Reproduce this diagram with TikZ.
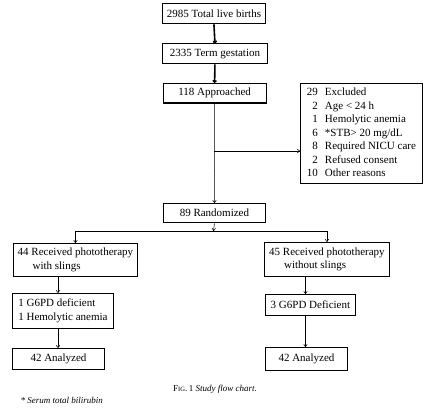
\documentclass[tikz,border=0pt]{standalone}
\usepackage{fontspec}
\setmainfont{Liberation Serif}
\usetikzlibrary{arrows.meta}
\begin{document}
\begin{tikzpicture}[x=1pt,y=1pt,
  box/.style={draw, line width=0.9pt, inner sep=0pt, anchor=north west, font=\fontsize{11}{13.5}\selectfont},
  conn/.style={line width=0.5pt},
  arr/.style={conn, -{To[length=3pt,width=4pt]}},
  thickarr/.style={line width=1.6pt, -{To[length=3pt,width=4.5pt]}}]
\useasboundingbox (0,0) rectangle (424,-409);
\node[box, minimum width=103pt, minimum height=20pt] (b1) at (162,-3.5) {2985 Total live births};
\node[box, minimum width=105pt, minimum height=20pt] (b2) at (162,-43.5) {2335 Term gestation};
\node[box, minimum width=103pt, minimum height=19.5pt, line width=1.2pt] (b3) at (162.5,-83) {118 Approached};
\node[box, minimum width=122pt, minimum height=100pt] (excl) at (300,-83)
  {\begin{tabular}{@{}r@{\hspace{7pt}}l@{}}
  29 & Excluded\\
  2 & Age < 24 h\\
  1 & Hemolytic anemia\\
  6 & *STB> 20 mg/dL\\
  8 & Required NICU care\\
  2 & Refused consent\\
  10 & Other reasons
  \end{tabular}};
\node[box, minimum width=102pt, minimum height=19.5pt] (rand) at (163,-203) {89 Randomized};
\node[box, minimum width=124pt, minimum height=33pt, align=left] (left) at (13,-243) {44 Received phototherapy\\\hspace{1.35em}with slings};
\node[box, minimum width=125pt, minimum height=34pt, align=left] (right) at (264,-242) {45 Received phototherapy\\\hspace{1.35em}without slings};
\node[box, minimum width=101pt, minimum height=35pt, align=left] (g1) at (12,-293) {1 G6PD deficient\\1 Hemolytic anemia};
\node[box, minimum width=90pt, minimum height=21pt] (g2) at (265,-294) {3 G6PD Deficient};
\node[box, minimum width=92pt, minimum height=21pt] (a1) at (12,-348) {42 Analyzed};
\node[box, minimum width=82pt, minimum height=23pt] (a2) at (265,-347) {42 Analyzed};
\node[font=\fontsize{9}{11}\selectfont] (cap) at (215,-389) {F{\fontsize{6.5}{8}\selectfont IG}.\,1 \textit{Study flow chart.}};
\node[font=\fontsize{9}{11}\selectfont\itshape, anchor=west] (note) at (17,-400) {* Serum total bilirubin};
\draw[thickarr] (b1.south) -- (b2.north);
\draw[thickarr] (b2.south) -- (b3.north);
\draw[arr] (b3.south) -- (rand.north);
\coordinate (j1) at (213.5,-151);
\draw[arr] (j1) -- (j1 -| excl.west);
\coordinate (split) at (213.5,-231);
\draw[arr] (rand.south) -- (split);
\draw[conn] (split -| left.north) -- (split -| right.north);
\draw[arr] (split -| left.north) -- (left.north);
\draw[arr] (split -| right.north) -- (right.north);
\coordinate (lx) at (58,0);
\coordinate (rx) at (305.5,0);
\draw[arr] (lx |- left.south) -- (lx |- g1.north);
\draw[arr] (lx |- g1.south) -- (lx |- a1.north);
\draw[arr] (rx |- right.south) -- (rx |- g2.north);
\draw[arr] (rx |- g2.south) -- (rx |- a2.north);
\end{tikzpicture}
\end{document}
